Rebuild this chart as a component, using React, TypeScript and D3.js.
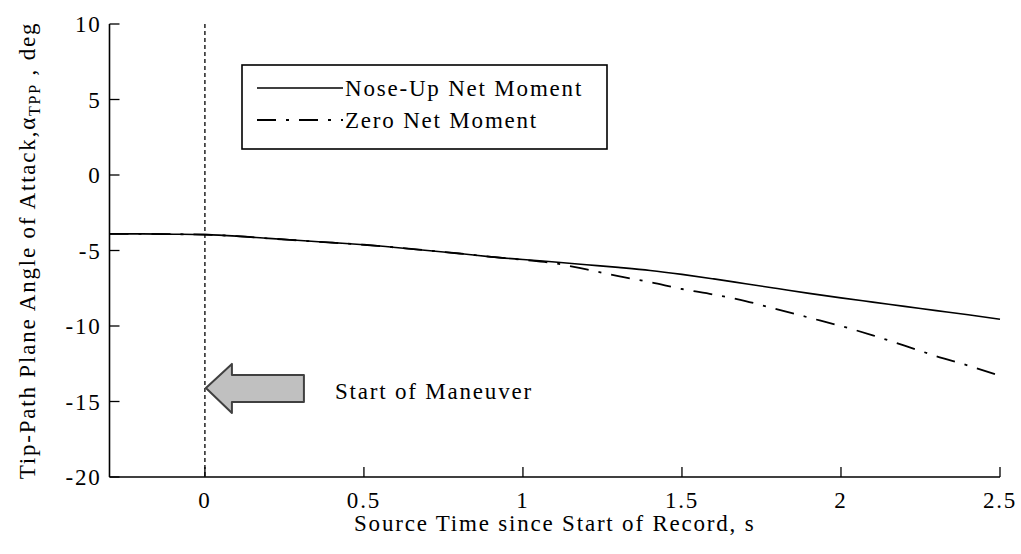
import React from "react";
import * as d3 from "d3";

const times = [-0.3, -0.2, -0.1, 0.0, 0.1, 0.2, 0.3, 0.4, 0.5, 0.6, 0.7, 0.8, 0.9, 1.0, 1.1, 1.2, 1.3, 1.4, 1.5, 1.6, 1.7, 1.8, 1.9, 2.0, 2.1, 2.2, 2.3, 2.4, 2.5];
const noseUp = [-3.9, -3.9, -3.92, -3.95, -4.05, -4.2, -4.34, -4.48, -4.62, -4.8, -5.0, -5.2, -5.42, -5.6, -5.76, -5.94, -6.12, -6.32, -6.58, -6.88, -7.2, -7.52, -7.84, -8.14, -8.42, -8.7, -8.98, -9.26, -9.55];
const zeroNet = [-3.9, -3.9, -3.92, -3.95, -4.05, -4.2, -4.34, -4.48, -4.62, -4.8, -5.0, -5.2, -5.42, -5.62, -5.85, -6.25, -6.7, -7.1, -7.55, -7.92, -8.35, -8.9, -9.45, -10.0, -10.62, -11.3, -12.0, -12.62, -13.3];
const xTicks = [0, 0.5, 1, 1.5, 2, 2.5];
const yTicks = [10, 5, 0, -5, -10, -15, -20];
const seriesNames = ["Nose-Up Net Moment", "Zero Net Moment"];
const annotation = "Start of Maneuver";
const arrowLevel = -14.1;

const W = 1021;
const H = 554;
const left = 109.5;
const right = 1000;
const top = 24;
const bottom = 477;
const FONT = "'Liberation Serif', 'Times New Roman', serif";
const FS = 23;
const LS = 1.8;
const DASHDOT = "19,10,3,10";

export default function App() {
  const x = d3.scaleLinear().domain([-0.3, 2.5]).range([left, right]);
  const y = d3.scaleLinear().domain([-20, 10]).range([bottom, top]);
  const line = d3
    .line<number>()
    .x((_, i) => x(times[i]))
    .y((d) => y(d))
    .curve(d3.curveMonotoneX);

  const tipX = x(0) + 1;
  const tipY = y(arrowLevel);
  const arrowPath = [
    [tipX, tipY],
    [tipX + 26, tipY - 24],
    [tipX + 26, tipY - 13],
    [tipX + 98, tipY - 13],
    [tipX + 98, tipY + 14],
    [tipX + 26, tipY + 14],
    [tipX + 26, tipY + 25],
  ];

  const legX = 242;
  const legY = 65;
  const legW = 365;
  const legH = 84;

  const textStyle = { fontFamily: FONT, fontSize: FS, letterSpacing: LS, fill: "#000" } as const;

  return (
    <svg
      width={W}
      height={H}
      style={{ position: "absolute", left: 0, top: 0, background: "#fff" }}
    >
      <rect x={0} y={0} width={W} height={H} fill="#fff" />
      {/* vertical dotted line at t=0 */}
      <line
        x1={x(0)}
        x2={x(0)}
        y1={top}
        y2={bottom}
        stroke="#000"
        strokeWidth={1.3}
        strokeDasharray="4,3"
      />
      {/* data lines */}
      <path d={line(zeroNet) || ""} fill="none" stroke="#000" strokeWidth={1.8} strokeDasharray={DASHDOT} />
      <path d={line(noseUp) || ""} fill="none" stroke="#000" strokeWidth={1.6} />

      {/* axes */}
      <line x1={left} x2={left} y1={top} y2={bottom} stroke="#000" strokeWidth={1.6} />
      <line x1={left} x2={right} y1={bottom} y2={bottom} stroke="#000" strokeWidth={1.6} />
      {yTicks.map((t) => (
        <g key={"y" + t}>
          <line x1={left} x2={left + 10} y1={y(t)} y2={y(t)} stroke="#000" strokeWidth={1.3} />
          <text x={left - 8} y={y(t)} dy="0.35em" textAnchor="end" style={textStyle}>
            {t}
          </text>
        </g>
      ))}
      {xTicks.map((t) => (
        <g key={"x" + t}>
          <line x1={x(t)} x2={x(t)} y1={bottom} y2={bottom - 10} stroke="#000" strokeWidth={1.3} />
          <text x={x(t)} y={500} dy="0.35em" textAnchor="middle" style={textStyle}>
            {t}
          </text>
        </g>
      ))}

      {/* axis labels */}
      <text x={(left + right) / 2} y={523} dy="0.35em" textAnchor="middle" style={textStyle}>
        Source Time since Start of Record, s
      </text>
      <text
        transform={`translate(27, ${(top + bottom) / 2}) rotate(-90)`}
        textAnchor="middle"
        dy="0.35em"
        style={textStyle}
      >
        Tip-Path Plane Angle of Attack,α
        <tspan dy="5" fontSize={16}>TPP</tspan>
        <tspan dy="-5"> , deg</tspan>
      </text>

      {/* legend */}
      <rect x={legX} y={legY} width={legW} height={legH} fill="#fff" stroke="#000" strokeWidth={1.6} />
      <line x1={257} x2={343} y1={88} y2={88} stroke="#000" strokeWidth={1.6} />
      <text x={345} y={88} dy="0.35em" style={textStyle}>
        {seriesNames[0]}
      </text>
      <line x1={257} x2={343} y1={120} y2={120} stroke="#000" strokeWidth={1.8} strokeDasharray={DASHDOT} />
      <text x={345} y={120} dy="0.35em" style={textStyle}>
        {seriesNames[1]}
      </text>

      {/* arrow annotation */}
      <path
        d={(d3.line()(arrowPath as [number, number][]) || "") + "Z"}
        fill="#c0c0c0"
        stroke="#404040"
        strokeWidth={2}
        strokeLinejoin="round"
      />
      <text x={335} y={tipY + 3} dy="0.35em" style={textStyle}>
        {annotation}
      </text>
    </svg>
  );
}
